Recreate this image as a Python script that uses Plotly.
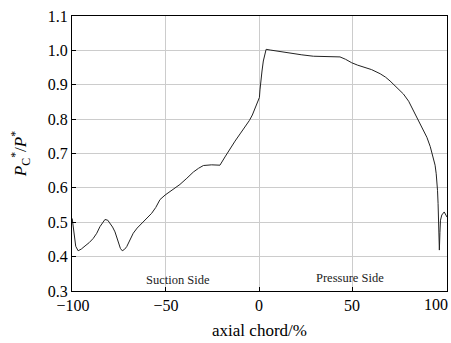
import plotly.graph_objects as go

chord = [-100.4, -99.5, -98.5, -97.2, -95.5, -93.5, -91.2, -89.1, -87.2, -85.5, -84.0, -82.8, -81.3, -80.1, -78.7,
         -77.4, -76.4, -75.6, -74.5, -73.5, -72.3, -71.1, -69.5, -67.6, -65.5, -63.1, -60.5, -57.7, -55.5,
         -53.2, -50.5, -46.5, -42.5, -38.8, -35.3, -32.5, -29.9, -25.5, -21.0, -18.3, -15.6, -12.9, -10.2,
         -7.7, -5.2, -3.6, -2.2, -0.8, 0.2, 0.5, 0.9, 1.6, 2.3, 3.0, 3.8, 6.0, 9.5, 13.0, 16.7, 23.0, 29.2,
         36.0, 43.5, 46.5, 49.8, 53.0, 56.1, 60.5, 65.1, 68.0, 70.4, 74.0, 77.6, 80.4, 83.0, 85.7, 88.3,
         90.2, 92.0, 93.7, 94.6, 95.2, 95.6, 95.9, 96.2, 96.4, 96.7, 96.9, 97.2, 97.5, 98.2, 99.5, 100.4, 101.0]
pressure = [0.511, 0.470, 0.430, 0.417, 0.422, 0.431, 0.441, 0.453, 0.468, 0.487, 0.500, 0.508, 0.506, 0.498, 0.486,
            0.472, 0.456, 0.439, 0.424, 0.417, 0.421, 0.429, 0.447, 0.468, 0.483, 0.497, 0.511, 0.526, 0.543,
            0.566, 0.579, 0.594, 0.610, 0.628, 0.646, 0.657, 0.665, 0.667, 0.666, 0.690, 0.714, 0.736, 0.757,
            0.776, 0.796, 0.812, 0.829, 0.846, 0.863, 0.885, 0.911, 0.940, 0.969, 0.990, 1.003, 1.001, 0.998,
            0.995, 0.991, 0.987, 0.983, 0.982, 0.981, 0.974, 0.964, 0.957, 0.952, 0.944, 0.932, 0.922, 0.911,
            0.893, 0.873, 0.852, 0.824, 0.798, 0.769, 0.747, 0.720, 0.689, 0.666, 0.641, 0.618, 0.593, 0.555,
            0.516, 0.470, 0.419, 0.470, 0.506, 0.521, 0.530, 0.521, 0.515]

x_ticks = [-100, -50, 0, 50]
x_tick_labels = ["\u2212100", "\u221250", "0", "50"]
x_last_tick_label = "100"
y_ticks = [0.3, 0.4, 0.5, 0.6, 0.7, 0.8, 0.9, 1.0, 1.1]
y_tick_labels = ["0.3", "0.4", "0.5", "0.6", "0.7", "0.8", "0.9", "1.0", "1.1"]

side_labels = ["Suction Side", "Pressure Side"]
side_x = [-43.5, 49.0]
side_y = [0.333, 0.338]

font_family = "Liberation Serif"

fig = go.Figure()
fig.add_trace(go.Scatter(x=chord, y=pressure, mode="lines",
                         line=dict(color="#222222", width=1), showlegend=False))

for t, xx, yy in zip(side_labels, side_x, side_y):
    fig.add_annotation(x=xx, y=yy, text=t, showarrow=False,
                       font=dict(family=font_family, size=12.5, color="#222222"))

# last x tick label, kept inside the figure as in the reference
fig.add_annotation(x=1, xref="paper", y=0, yref="paper", text=x_last_tick_label,
                   showarrow=False, xanchor="right", yanchor="top", xshift=3, yshift=-3,
                   font=dict(family=font_family, size=16, color="black"))

fig.update_layout(
    width=451, height=343,
    margin=dict(l=72, r=4, t=16, b=52, autoexpand=False),
    paper_bgcolor="white", plot_bgcolor="white",
    font=dict(family=font_family, color="black"),
)
fig.update_xaxes(range=[-100.5, 101], tickvals=x_ticks, ticktext=x_tick_labels,
                 tickfont=dict(size=16), showgrid=True, gridcolor="#cccccc", gridwidth=1,
                 showline=True, linecolor="black", linewidth=1, mirror=True,
                 ticks="inside", ticklen=4, tickcolor="black", zeroline=False,
                 title=dict(text="axial chord/%", font=dict(size=17), standoff=10))
fig.update_yaxes(range=[0.3, 1.1], tickvals=y_ticks, ticktext=y_tick_labels,
                 tickfont=dict(size=16), showgrid=True, gridcolor="#cccccc", gridwidth=1,
                 showline=True, linecolor="black", linewidth=1, mirror=True,
                 ticks="inside", ticklen=4, tickcolor="black", zeroline=False,
                 title=dict(text="<i>P</i><sub>C</sub><sup>*</sup>/<i>P</i><sup>*</sup>",
                            font=dict(size=17), standoff=16))

fig.write_html("out.html", config={"displayModeBar": False},
               post_script="document.body.style.margin='0';document.body.style.overflow='hidden';")
